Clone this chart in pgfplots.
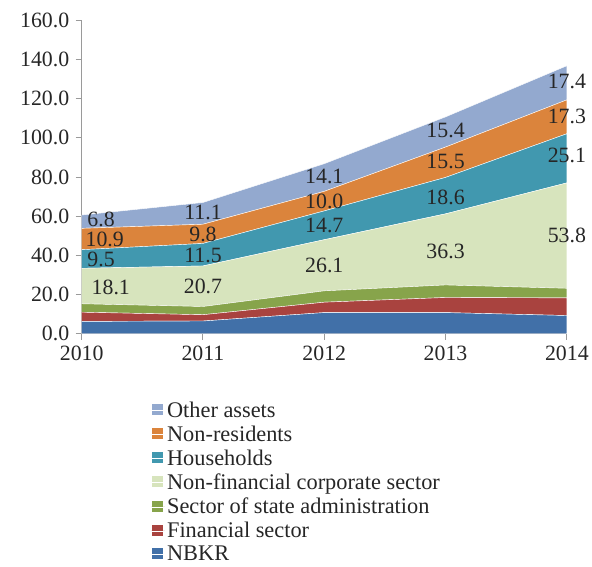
\documentclass[border=0pt]{standalone}
\usepackage{fontspec}
\setmainfont{Liberation Serif}
\usepackage{pgfplots}
\pgfplotsset{compat=1.18}

\definecolor{nbkr}{HTML}{4170A8}
\definecolor{fin}{HTML}{A9433F}
\definecolor{state}{HTML}{87A44B}
\definecolor{nfc}{HTML}{D7E4BD}
\definecolor{hh}{HTML}{4198AF}
\definecolor{nr}{HTML}{DB843C}
\definecolor{oa}{HTML}{93A9CF}
\definecolor{axgray}{HTML}{9A9A9A}
\definecolor{txt}{HTML}{262626}

\tikzset{vlab/.style={font=\fontsize{22}{26}\selectfont, text=txt, inner sep=0pt}}

\pgfplotstableread{
year nbkr fin state nfc hh nr oa
2010 6.3  4.7 4.3 18.1 9.5  10.9 6.8
2011 6.5  3.2 4.2 20.7 11.5 9.8  11.1
2012 10.8 5.3 5.8 26.1 14.7 10.0 14.1
2013 10.8 7.7 6.4 36.3 18.6 15.5 15.4
2014 9.3  9.0 4.9 53.8 25.1 17.3 17.4
}\assets

\begin{document}
\begin{tikzpicture}
\begin{axis}[
  scale only axis,
  width=487bp, height=314.6bp,
  xmin=2010, xmax=2014,
  ymin=0, ymax=160,
  xtick={2010,2011,2012,2013,2014},
  ytick={0,20,40,60,80,100,120,140,160},
  axis x line=bottom, axis y line=left,
  axis line style={-, axgray, line width=1bp},
  tick style={axgray, line width=1bp},
  tick align=outside,
  major tick length=6bp,
  stack plots=y,
  /pgf/number format/assume math mode=true,
  x tick label style={/pgf/number format/1000 sep={}},
  y tick label style={/pgf/number format/fixed, /pgf/number format/fixed zerofill, /pgf/number format/precision=1},
  ticklabel style={font=\fontsize{22}{26}\selectfont, text=txt},
  xticklabel style={yshift=-3bp},
  yticklabel style={xshift=-3bp},
  reverse legend,
  legend style={
    at={(0.142,-0.205)}, anchor=north west,
    draw=none, fill=none,
    font=\fontsize{22.5}{26}\selectfont,
    text=txt,
    row sep=3bp,
    cells={anchor=west},
    inner xsep=0pt,
  },
  legend image code/.code={\fill[#1] (0bp,-5bp) rectangle (12bp,7bp); \path (0bp,0bp) -- (14bp,0bp);},
]
\addplot[fill=nbkr, draw=white, line width=0.4bp] table[x=year, y=nbkr] {\assets} \closedcycle;
\addlegendentry{NBKR}
\addplot[fill=fin, draw=white, line width=0.4bp] table[x=year, y=fin] {\assets} \closedcycle;
\addlegendentry{Financial sector}
\addplot[fill=state, draw=white, line width=0.4bp] table[x=year, y=state] {\assets} \closedcycle;
\addlegendentry{Sector of state administration}
\addplot[fill=nfc, draw=white, line width=0.4bp] table[x=year, y=nfc] {\assets} \closedcycle;
\addlegendentry{Non-financial corporate sector}
\addplot[fill=hh, draw=white, line width=0.4bp] table[x=year, y=hh] {\assets} \closedcycle;
\addlegendentry{Households}
\addplot[fill=nr, draw=white, line width=0.4bp] table[x=year, y=nr] {\assets} \closedcycle;
\addlegendentry{Non-residents}
\addplot[fill=oa, draw=white, line width=0.4bp] table[x=year, y=oa] {\assets} \closedcycle;
\addlegendentry{Other assets}

% anchor points for the value labels (layer centres)
\coordinate (a1) at (axis cs:2010.16,58.3);
\coordinate (a2) at (axis cs:2010.19,48.2);
\coordinate (a3) at (axis cs:2010.16,37.9);
\coordinate (a4) at (axis cs:2010.24,23.6);
\coordinate (b1) at (axis cs:2011,62.0);
\coordinate (b2) at (axis cs:2011,50.8);
\coordinate (b3) at (axis cs:2011,40.0);
\coordinate (b4) at (axis cs:2011,24.0);
\coordinate (c1) at (axis cs:2012,80.5);
\coordinate (c2) at (axis cs:2012,67.7);
\coordinate (c3) at (axis cs:2012,55.4);
\coordinate (c4) at (axis cs:2012,35.0);
\coordinate (d1) at (axis cs:2013,103.6);
\coordinate (d2) at (axis cs:2013,87.7);
\coordinate (d3) at (axis cs:2013,69.7);
\coordinate (d4) at (axis cs:2013,42.0);
\coordinate (e1) at (axis cs:2014,129.0);
\coordinate (e2) at (axis cs:2014,111.0);
\coordinate (e3) at (axis cs:2014,91.0);
\coordinate (e4) at (axis cs:2014,50.0);
\end{axis}
\node[vlab] at (a1) {6.8};
\node[vlab] at (a2) {10.9};
\node[vlab] at (a3) {9.5};
\node[vlab] at (a4) {18.1};
\node[vlab] at (b1) {11.1};
\node[vlab] at (b2) {9.8};
\node[vlab] at (b3) {11.5};
\node[vlab] at (b4) {20.7};
\node[vlab] at (c1) {14.1};
\node[vlab] at (c2) {10.0};
\node[vlab] at (c3) {14.7};
\node[vlab] at (c4) {26.1};
\node[vlab] at (d1) {15.4};
\node[vlab] at (d2) {15.5};
\node[vlab] at (d3) {18.6};
\node[vlab] at (d4) {36.3};
\node[vlab] at (e1) {17.4};
\node[vlab] at (e2) {17.3};
\node[vlab] at (e3) {25.1};
\node[vlab] at (e4) {53.8};
\path (current axis.south west) ++(-82bp,-223bp) rectangle ++(592bp,558bp);
\end{tikzpicture}
\end{document}
